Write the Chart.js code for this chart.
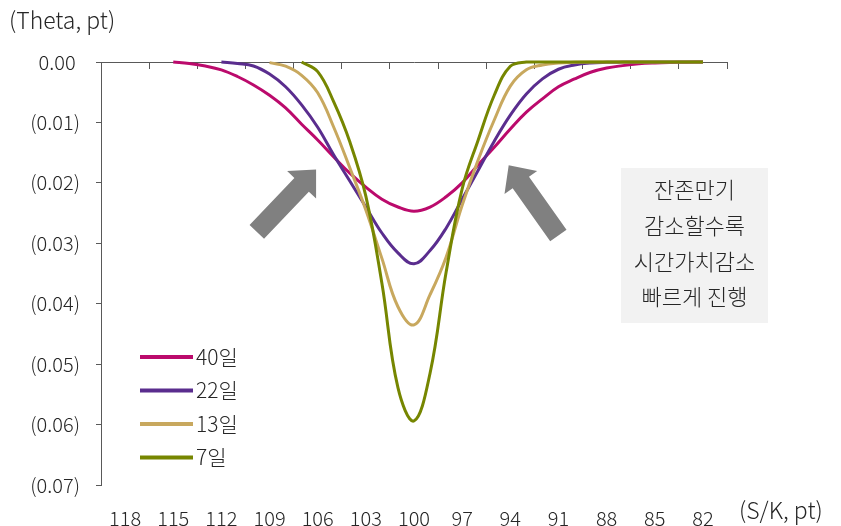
<!DOCTYPE html>
<html>
<head>
<meta charset="utf-8">
<script src="https://cdn.jsdelivr.net/npm/chart.js@4.4.1/dist/chart.umd.min.js"></script>
<style>
  html, body { margin: 0; padding: 0; background: #ffffff; }
  #wrap { width: 841px; height: 526px; position: relative; }
</style>
</head>
<body>
<div id="wrap"><canvas id="c"></canvas></div>
<script>
// Strike / spot ratio (S/K, pt), one point per integer step
const strikes = [118,117,116,115,114,113,112,111,110,109,108,107,106,105,104,103,102,101,100,
                 99,98,97,96,95,94,93,92,91,90,89,88,87,86,85,84,83,82];

// Labels shown on the horizontal axis
const tickLabels = ['118','115','112','109','106','103','100','97','94','91','88','85','82'];

// Option theta (pt) by remaining maturity
const theta40 = [null,null,null,0,-0.00025,-0.00066,-0.0013,-0.0024,-0.0038,-0.0055,-0.0076,-0.0103,
                 -0.0129,-0.0157,-0.0184,-0.0207,-0.0227,-0.0240,-0.0247,
                 -0.0240,-0.0223,-0.0200,-0.0170,-0.0141,-0.0111,-0.0083,-0.0061,-0.0041,-0.0028,
                 -0.0017,-0.0010,-0.0006,-0.0003,-0.00015,-0.00007,-0.00003,-0.00001];
const theta22 = [null,null,null,null,null,null,0,-0.00025,-0.00066,-0.0020,-0.0041,-0.0071,
                 -0.0108,-0.0154,-0.0197,-0.0240,-0.0283,-0.0316,-0.0334,
                 -0.0312,-0.0275,-0.0227,-0.0179,-0.0131,-0.0088,-0.0053,-0.0028,-0.0012,-0.0005,
                 -0.00017,-0.00006,-0.00002,0,0,0,0,0];
const theta13 = [null,null,null,null,null,null,null,null,null,-0.0001,-0.0007,-0.0022,
                 -0.0051,-0.0108,-0.0175,-0.0245,-0.0325,-0.0405,-0.0435,
                 -0.0385,-0.0323,-0.0237,-0.0162,-0.0096,-0.0040,-0.0013,-0.0005,-0.00017,-0.00005,
                 0,0,0,0,0,0,0,0];
const theta7  = [null,null,null,null,null,null,null,null,null,null,null,0,
                 -0.0016,-0.0066,-0.0132,-0.0222,-0.0366,-0.0539,-0.0594,
                 -0.0515,-0.0348,-0.0210,-0.0129,-0.0055,-0.0007,0,0,0,0,
                 0,0,0,0,0,0,0,0];

const seriesNames = ['40일','22일','13일','7일'];
const seriesColors = ['#BB0A6C','#5A2D8E','#C8A85E','#768600'];

const FONT = '"Noto Sans CJK KR", "Noto Sans", sans-serif';
const TEXT = '#262626';
const AXIS = '#595959';

function pts(values) {
  return strikes.map((k, i) => ({ x: k, y: values[i] }));
}

const allSeries = [theta40, theta22, theta13, theta7];
const datasets = allSeries.map((vals, i) => ({
  label: seriesNames[i],
  data: pts(vals),
  borderColor: seriesColors[i],
  backgroundColor: seriesColors[i],
  borderWidth: 3,
  pointRadius: 0,
  tension: 0.4,
  clip: false,
  order: allSeries.length - i   // shorter maturities drawn on top
}));

const xMax = 119.5, xMin = 80.5;
const boundaries = [];
for (let b = xMax; b >= xMin - 1e-9; b -= 3) boundaries.push(b);

// Decorations: legend, axis captions, arrows, note box
const decor = {
  id: 'decor',
  afterDraw(chart) {
    const ctx = chart.ctx;
    const xs = chart.scales.x, ys = chart.scales.y;
    ctx.save();

    // axis captions
    ctx.fillStyle = TEXT;
    ctx.font = '300 23px ' + FONT;
    ctx.textBaseline = 'middle';
    ctx.textAlign = 'left';
    ctx.fillText('(Theta, pt)', 9, 20);
    ctx.fillText('(S/K, pt)', 739, 510);

    // legend
    chart.data.datasets.forEach((ds, i) => {
      const y = 357 + i * 33.5;
      ctx.strokeStyle = ds.borderColor;
      ctx.lineWidth = 4;
      ctx.beginPath();
      ctx.moveTo(140, y);
      ctx.lineTo(193, y);
      ctx.stroke();
      ctx.fillStyle = TEXT;
      ctx.font = '300 21px ' + FONT;
      ctx.fillText(ds.label, 196, y);
    });

    // arrows pointing at the curves
    const arrow = (k, v, dx, dy) => {
      const tx = xs.getPixelForValue(k), ty = ys.getPixelForValue(v);
      const len = 86, headLen = 21, headW = 40, shaftW = 20;
      const a = Math.atan2(dy, dx);
      ctx.save();
      ctx.translate(tx, ty);
      ctx.rotate(a);
      ctx.fillStyle = '#808080';
      ctx.beginPath();
      ctx.moveTo(0, 0);
      ctx.lineTo(-headLen, -headW / 2);
      ctx.lineTo(-headLen, -shaftW / 2);
      ctx.lineTo(-len, -shaftW / 2);
      ctx.lineTo(-len, shaftW / 2);
      ctx.lineTo(-headLen, shaftW / 2);
      ctx.lineTo(-headLen, headW / 2);
      ctx.closePath();
      ctx.fill();
      ctx.restore();
    };
    arrow(106.1, -0.0178, 59, -62);
    arrow(94.1, -0.0171, -49.5, -70);

    // note box
    ctx.fillStyle = '#F2F2F2';
    ctx.fillRect(621, 168, 147, 155);
    ctx.fillStyle = TEXT;
    ctx.font = '300 22px ' + FONT;
    ctx.textAlign = 'center';
    ['잔존만기', '감소할수록', '시간가치감소', '빠르게 진행'].forEach((t, i) => {
      ctx.fillText(t, 694.5, 190 + i * 35.7);
    });
    ctx.restore();
  }
};

new Chart(document.getElementById('c'), {
  type: 'line',
  data: { datasets },
  options: {
    responsive: true,
    maintainAspectRatio: false,
    animation: false,
    layout: { padding: { left: 0, right: 114, top: 62, bottom: 0 } },
    plugins: { legend: { display: false }, tooltip: { enabled: false } },
    scales: {
      x: {
        type: 'linear',
        position: 'bottom',
        reverse: true,
        min: xMin, max: xMax,
        afterBuildTicks(scale) {
          scale.ticks = tickLabels.map(t => ({ value: Number(t) }));
        },
        afterFit(scale) { scale.height = 41; },
        ticks: {
          autoSkip: false, maxRotation: 0, padding: 13,
          color: TEXT, font: { family: FONT, size: 20, weight: '300' },
          callback: (v) => String(v)
        },
        grid: { display: false },
        border: { display: false }
      },
      xTop: {
        type: 'linear',
        axis: 'x',
        position: { y: 0 },
        reverse: true,
        min: xMin, max: xMax,
        afterBuildTicks(scale) {
          scale.ticks = boundaries.map(b => ({ value: b }));
        },
        ticks: { display: false },
        grid: { drawOnChartArea: false, drawTicks: true, tickLength: 6, color: AXIS, lineWidth: 1 },
        border: { display: true, color: AXIS, width: 1 }
      },
      y: {
        min: -0.07, max: 0,
        afterFit(scale) { scale.width = 101; },
        ticks: {
          stepSize: 0.01, padding: 16,
          color: TEXT, font: { family: FONT, size: 20, weight: '300' },
          callback: (v) => {
            const r = Math.round(v * 100) / 100;
            return r < 0 ? '(' + (-r).toFixed(2) + ')' : '0.00 ';
          }
        },
        grid: { drawOnChartArea: false, drawTicks: true, tickLength: 5, color: AXIS },
        border: { display: true, color: AXIS }
      }
    }
  },
  plugins: [decor]
});
</script>
</body>
</html>
